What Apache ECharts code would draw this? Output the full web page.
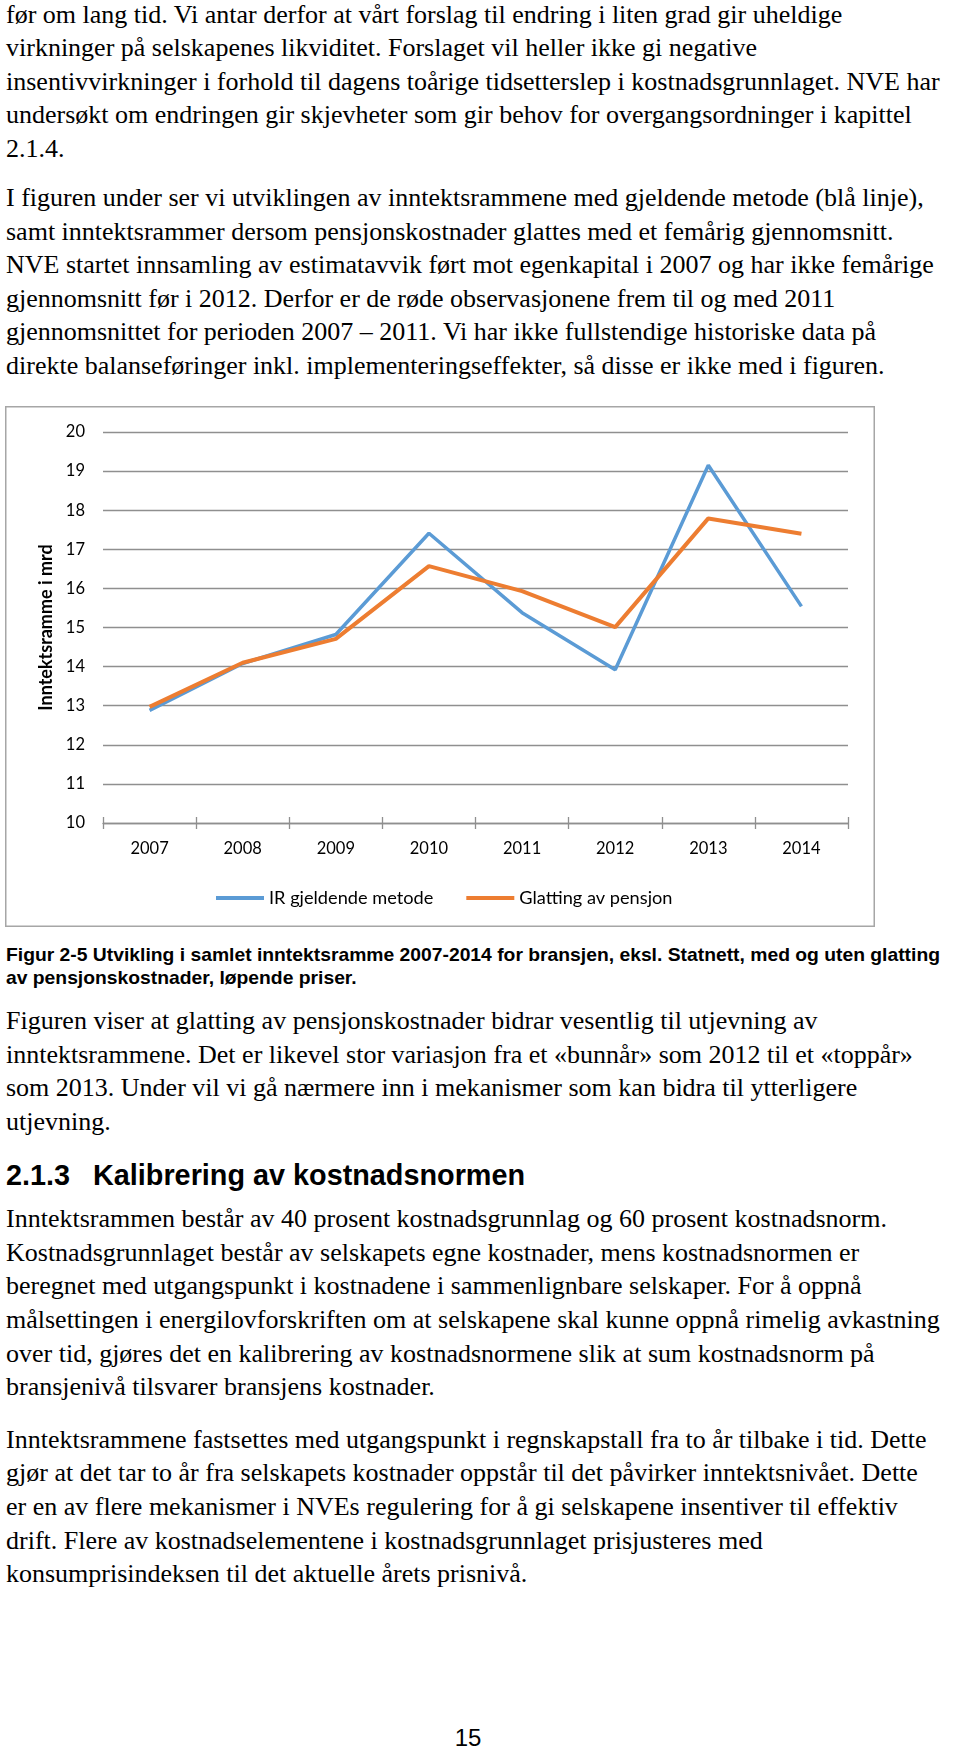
<!DOCTYPE html>
<html>
<head>
<meta charset="utf-8">
<script src="https://cdn.jsdelivr.net/npm/echarts@6/dist/echarts.min.js"></script>
<style>
  html, body { margin: 0; padding: 0; background: #fff; }
  body { width: 960px; height: 1748px; position: relative; overflow: hidden; }
  .ln { position: absolute; white-space: nowrap; color: #000; }
  .serif { font-family: "Liberation Serif", "Times New Roman", serif; }
  .sans { font-family: "Liberation Sans", Arial, sans-serif; font-weight: bold; }
  #chart { position: absolute; left: 5px; top: 406px; width: 870px; height: 521px; }
</style>
</head>
<body>
<div id="chart"></div>
<script>
// ---- chart data ----
const years = ['2007', '2008', '2009', '2010', '2011', '2012', '2013', '2014'];
const irGjeldendeMetode = [12.88, 14.08, 14.82, 17.41, 15.38, 13.92, 19.15, 15.54];
const glattingAvPensjon = [12.97, 14.10, 14.71, 16.57, 15.93, 15.01, 17.79, 17.40];
const seriesNames = ['IR gjeldende metode', 'Glatting av pensjon'];
const yAxisName = 'Inntektsramme i mrd';
const yTicks = { min: 10, max: 20, interval: 1 };

// ---- page text ----
const para1 = [
  'før om lang tid. Vi antar derfor at vårt forslag til endring i liten grad gir uheldige',
  'virkninger på selskapenes likviditet. Forslaget vil heller ikke gi negative',
  'insentivvirkninger i forhold til dagens toårige tidsetterslep i kostnadsgrunnlaget. NVE har',
  'undersøkt om endringen gir skjevheter som gir behov for overgangsordninger i kapittel',
  '2.1.4.'
];
const para2 = [
  'I figuren under ser vi utviklingen av inntektsrammene med gjeldende metode (blå linje),',
  'samt inntektsrammer dersom pensjonskostnader glattes med et femårig gjennomsnitt.',
  'NVE startet innsamling av estimatavvik ført mot egenkapital i 2007 og har ikke femårige',
  'gjennomsnitt før i 2012. Derfor er de røde observasjonene frem til og med 2011',
  'gjennomsnittet for perioden 2007 – 2011. Vi har ikke fullstendige historiske data på',
  'direkte balanseføringer inkl. implementeringseffekter, så disse er ikke med i figuren.'
];
const caption = [
  'Figur 2-5 Utvikling i samlet inntektsramme 2007-2014 for bransjen, eksl. Statnett, med og uten glatting',
  'av pensjonskostnader, løpende priser.'
];
const para3 = [
  'Figuren viser at glatting av pensjonskostnader bidrar vesentlig til utjevning av',
  'inntektsrammene. Det er likevel stor variasjon fra et «bunnår» som 2012 til et «toppår»',
  'som 2013. Under vil vi gå nærmere inn i mekanismer som kan bidra til ytterligere',
  'utjevning.'
];
const headingNumber = '2.1.3';
const headingText = 'Kalibrering av kostnadsnormen';
const para4 = [
  'Inntektsrammen består av 40 prosent kostnadsgrunnlag og 60 prosent kostnadsnorm.',
  'Kostnadsgrunnlaget består av selskapets egne kostnader, mens kostnadsnormen er',
  'beregnet med utgangspunkt i kostnadene i sammenlignbare selskaper. For å oppnå',
  'målsettingen i energilovforskriften om at selskapene skal kunne oppnå rimelig avkastning',
  'over tid, gjøres det en kalibrering av kostnadsnormene slik at sum kostnadsnorm på',
  'bransjenivå tilsvarer bransjens kostnader.'
];
const para5 = [
  'Inntektsrammene fastsettes med utgangspunkt i regnskapstall fra to år tilbake i tid. Dette',
  'gjør at det tar to år fra selskapets kostnader oppstår til det påvirker inntektsnivået. Dette',
  'er en av flere mekanismer i NVEs regulering for å gi selskapene insentiver til effektiv',
  'drift. Flere av kostnadselementene i kostnadsgrunnlaget prisjusteres med',
  'konsumprisindeksen til det aktuelle årets prisnivå.'
];
const pageNumber = '15';

// ---- text layout helpers ----
function addLine(text, cls, size, left, baseline, ratio) {
  const d = document.createElement('div');
  d.className = 'ln ' + cls;
  d.textContent = text;
  d.style.fontSize = size + 'px';
  d.style.lineHeight = size + 'px';
  d.style.top = (baseline - ratio * size) + 'px';
  d.style.left = left + 'px';
  document.body.appendChild(d);
  return d;
}
const BODY = 26, SERIF_R = 0.8375, SANS_R = 0.8465, LH = 33.6;
function addPara(lines, firstBaseline) {
  lines.forEach((t, i) => addLine(t, 'serif', BODY, 6, firstBaseline + i * LH, SERIF_R));
}
addPara(para1, 23.3);
addPara(para2, 206.7);
const capEls = caption.map((t, i) => addLine(t, 'sans', 19, 6, 961 + i * 23, SANS_R));
// fit the caption's first line to the printed width of the figure caption
const capScale = 934 / capEls[0].getBoundingClientRect().width;
capEls.forEach(el => { el.style.transformOrigin = '0 0'; el.style.transform = 'scaleX(' + capScale + ')'; });
addPara(para3, 1030);
addLine(headingNumber, 'sans', 28.8, 6, 1185, SANS_R);
addLine(headingText, 'sans', 28.8, 93, 1185, SANS_R);
addPara(para4, 1228);
addPara(para5, 1448.5);
const pn = document.createElement('div');
pn.className = 'ln';
pn.style.fontFamily = '"Liberation Sans", Arial, sans-serif';
pn.textContent = pageNumber;
pn.style.fontSize = '24px'; pn.style.lineHeight = '24px';
pn.style.top = (1746 - 0.8465 * 24) + 'px';
pn.style.left = '468px'; pn.style.transform = 'translateX(-50%)';
document.body.appendChild(pn);

// ---- chart ----
const chart = echarts.init(document.getElementById('chart'), null, { renderer: 'canvas' });
const FONT = 'Lato, "Open Sans", sans-serif';
const gridColor = '#8f8f8f';
chart.setOption({
  animation: false,
  backgroundColor: 'transparent',
  graphic: [{
    type: 'rect', silent: true,
    shape: { x: 0.75, y: 0.75, width: 868.5, height: 519.5 },
    style: { fill: 'none', stroke: '#a6a6a6', lineWidth: 1.5 }
  }],
  grid: { left: 98, right: 27, top: 26, bottom: 104 },
  legend: {
    data: seriesNames,
    icon: 'rect',
    left: 206, top: 478,
    itemWidth: 48, itemHeight: 4, itemGap: 33,
    textStyle: { fontFamily: FONT, fontSize: 18.2, color: '#000' }
  },
  xAxis: [{
    type: 'category', data: years, boundaryGap: true, position: 'bottom',
    axisLine: { lineStyle: { color: gridColor, width: 1.3 } },
    axisTick: { show: true, length: 6, interval: 0, lineStyle: { color: gridColor, width: 1.3 } },
    axisLabel: { margin: 17, fontFamily: FONT, fontSize: 16.5, color: '#000', interval: 0 },
    splitLine: { show: false }
  }, {
    type: 'category', data: years, boundaryGap: true, position: 'bottom', offset: 0,
    axisLine: { show: false },
    axisTick: { show: true, inside: true, length: 6, interval: 0, lineStyle: { color: gridColor, width: 1.3 } },
    axisLabel: { show: false },
    splitLine: { show: false }
  }],
  yAxis: {
    type: 'value', min: yTicks.min, max: yTicks.max, interval: yTicks.interval,
    name: yAxisName, nameLocation: 'middle', nameRotate: 90, nameGap: 43,
    nameTextStyle: { fontFamily: FONT, fontSize: 18, fontWeight: 'bold', color: '#000' },
    axisLine: { show: false }, axisTick: { show: false },
    axisLabel: { margin: 18, fontFamily: FONT, fontSize: 16.5, color: '#000' },
    splitLine: { lineStyle: { color: gridColor, width: 1.3 } }
  },
  series: [{
    name: seriesNames[0], type: 'line', data: irGjeldendeMetode,
    symbol: 'none', color: '#5B9BD5',
    lineStyle: { width: 3.5, color: '#5B9BD5' }
  }, {
    name: seriesNames[1], type: 'line', data: glattingAvPensjon,
    symbol: 'none', color: '#ED7D31',
    lineStyle: { width: 4, color: '#ED7D31' }
  }]
});
</script>
</body>
</html>
